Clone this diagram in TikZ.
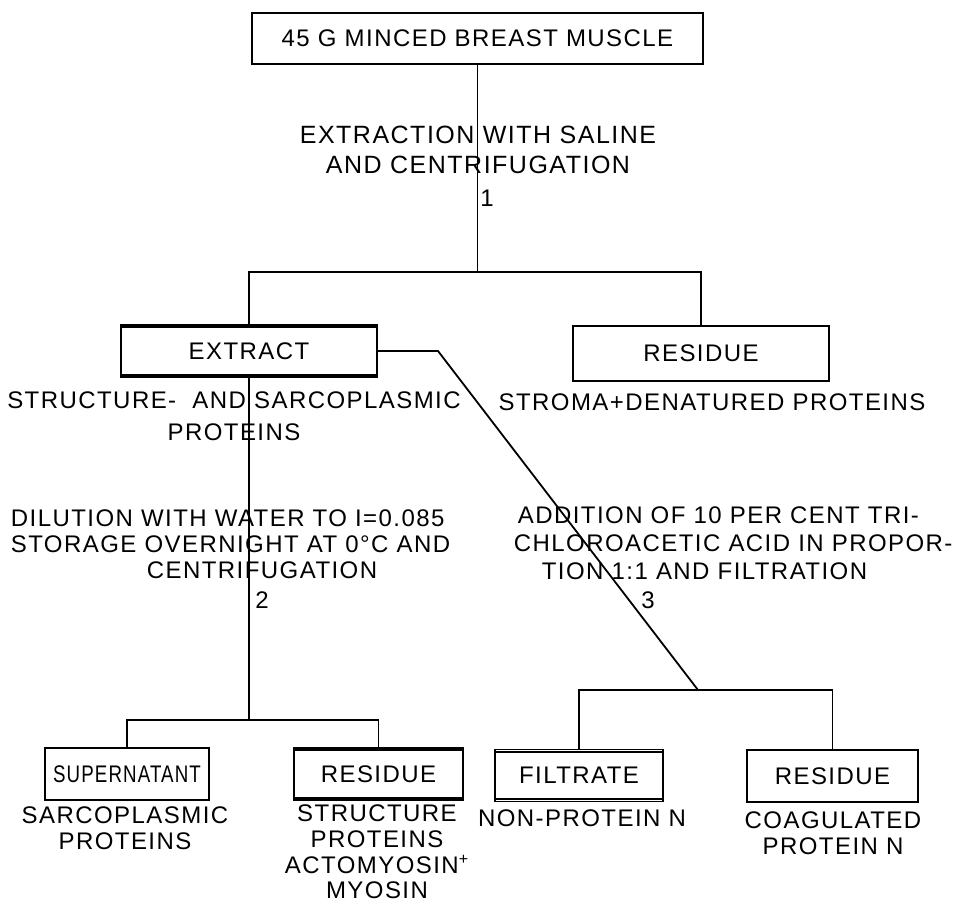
\documentclass[tikz,border=0pt]{standalone}
\usepackage{fontspec}
\usepackage{graphicx}
\setmainfont{Liberation Sans}[LetterSpace=6]
\usetikzlibrary{calc}

\begin{document}
\begin{tikzpicture}[x=0.5pt, y=-0.5pt, line width=0.9pt,
    every node/.style={font=\fontsize{12}{13}\selectfont, inner sep=0pt},
    box/.style={draw, minimum width=#1, minimum height=26pt},
    dbox/.style={box=#1, path picture={
      \draw ([yshift=-1.1pt]path picture bounding box.north west) -- ([yshift=-1.1pt]path picture bounding box.north east)
            ([yshift=1.1pt]path picture bounding box.south west) -- ([yshift=1.1pt]path picture bounding box.south east);}}]
  \useasboundingbox (0,0) rectangle (954,904);
  % boxes
  \node[box=225.5pt, minimum height=25.5pt] (muscle) at (477.5,38.5) {45 G MINCED BREAST MUSCLE};
  \node[dbox=128pt] (extract) at (249,351) {EXTRACT};
  \node[box=128pt, minimum height=27.5pt] (residue1) at (701,353.5) {RESIDUE};
  \node[box=82pt] (super) at (127,774) {\scalebox{0.78}[1]{SUPERNATANT}};
  \node[dbox=84.5pt] (residue2) at (378.5,774) {RESIDUE};
  \node[dbox=84pt] (filtrate) at (579,775.5) {FILTRATE};
  \node[box=85.5pt] (residue3) at (832.5,776) {RESIDUE};
  % connectors
  \coordinate (split1) at (476,272); \coordinate (split2) at (248,720);
  \coordinate (bend) at (438,351); \coordinate (split3) at (698,690);
  \draw (muscle) -- (muscle |- split1);
  \draw (extract.north) |- (split1) -| (residue1.north);
  \draw (extract) -- (extract |- split2);
  \draw (super.north) |- (split2) -| (residue2.north);
  \draw (extract.east) -- (bend) -- (split3);
  \draw (filtrate.north) |- (split3) -| (residue3.north);
  % steps
  \node[font=\fontsize{12.5}{15}\selectfont, align=center] (step1) at (478,150) {EXTRACTION WITH SALINE\\AND CENTRIFUGATION};
  \node (num1) at (487,198) {1};
  \node[align=left, anchor=west] (step2) at (10,544) {DILUTION WITH WATER TO I=0.085\\STORAGE OVERNIGHT AT 0°C AND\\\hspace*{68pt}CENTRIFUGATION};
  \node (num2) at (262,600) {2};
  \node[font=\fontsize{12}{14}\selectfont, align=left, anchor=west] (step3) at (513,543) {\hspace*{2pt}ADDITION OF 10 PER CENT TRI-\\CHLOROACETIC ACID IN PROPOR-\\\hspace*{14pt}TION 1:1 AND FILTRATION};
  \node (num3) at (648,600) {3};
  % contents
  \node[font=\fontsize{12}{16}\selectfont, align=center] (extxt) at (234,416) {STRUCTURE-\ \ AND SARCOPLASMIC\\PROTEINS};
  \node (res1txt) at (712,402) {STROMA+DENATURED PROTEINS};
  \node[align=center] (suptxt) at (125,828.5) {SARCOPLASMIC\\PROTEINS};
  \node[align=center, font=\fontsize{12}{12.8}\selectfont] (res2txt) at (377,852) {STRUCTURE\\PROTEINS\\ACTOMYOSIN\textsuperscript{+}\\MYOSIN};
  \node (filtxt) at (582,818) {NON-PROTEIN N};
  \node[align=center] (res3txt) at (833,833.5) {COAGULATED\\PROTEIN N};
\end{tikzpicture}
\end{document}
